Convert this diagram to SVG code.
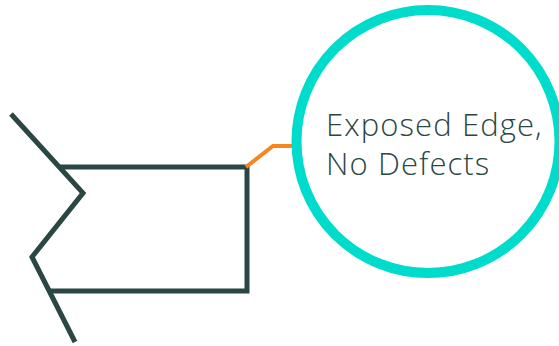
<svg xmlns="http://www.w3.org/2000/svg" width="559" height="346" viewBox="0 0 559 346">
<style>
.shape{fill:none;stroke:#2b4744;stroke-width:5;stroke-linejoin:miter}
.conn{fill:none;stroke:#f7861e;stroke-width:4}
.ring{fill:#fff;stroke:#00dccc;stroke-width:10}
.lbl{font-family:"Open Sans","Noto Sans",sans-serif;font-size:31px;font-weight:350;letter-spacing:1.1px;fill:#2b4744}
</style>
<rect width="559" height="346" fill="#fff"/>
<g id="board">
<polyline class="shape" points="11,114 83,193 32,257 75,342"/>
<polyline class="shape" points="59,167 247,167 247,291 49,291"/>
</g>
<g id="connectors">
<polyline class="conn" points="246,167 273,146 293,146"/>
</g>
<g id="callout">
<circle class="ring" cx="428" cy="141.5" r="131.5"/>
<text class="lbl" x="326" y="136">Exposed Edge,</text>
<text class="lbl" x="326" y="175">No Defects</text>
</g>
</svg>
